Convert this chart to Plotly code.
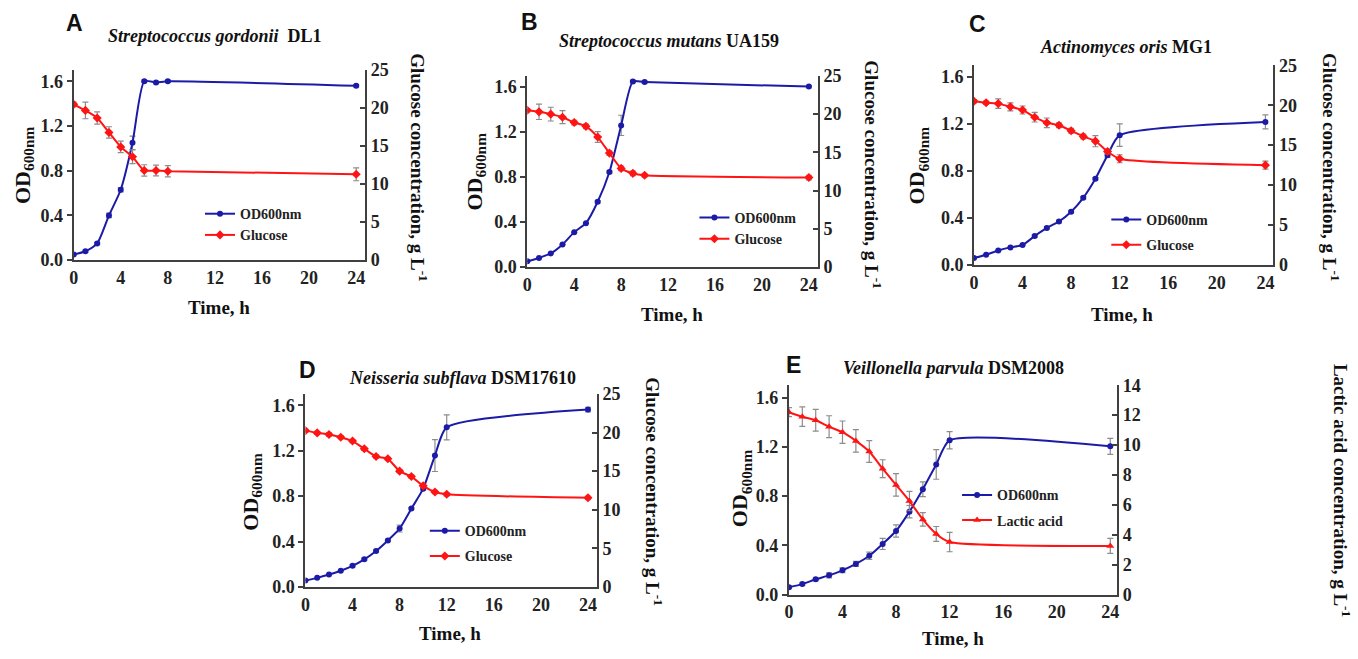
"""Growth curves of five oral bacteria: OD600 and substrate concentration over time."""

import plotly.graph_objects as go

W, H = 1358, 659

# ---- data ----
t_a = [0, 1, 2, 3, 4, 5, 6, 7, 8, 24]
od_a = [0.05, 0.08, 0.15, 0.40, 0.63, 1.05, 1.60, 1.59, 1.60, 1.56]
od_a_err = [0.01, 0.01, 0.01, 0.02, 0.02, 0.06, 0.01, 0.01, 0.01, 0.01]
glc_a = [20.5, 19.7, 18.7, 16.8, 14.9, 13.6, 11.8, 11.8, 11.7, 11.3]
glc_a_err = [0.3, 1.1, 0.8, 0.75, 0.75, 0.9, 0.75, 0.7, 0.75, 0.85]

t_b = [0, 1, 2, 3, 4, 5, 6, 7, 8, 9, 10, 24]
od_b = [0.05, 0.08, 0.12, 0.20, 0.31, 0.39, 0.58, 0.845, 1.26, 1.65, 1.645, 1.605]
od_b_err = [0, 0, 0, 0, 0, 0, 0.01, 0.01, 0.09, 0.01, 0.01, 0.01]
glc_b = [20.5, 20.3, 20.0, 19.6, 18.9, 18.4, 17.0, 14.9, 12.9, 12.25, 12.0, 11.7]
glc_b_err = [0.2, 1.0, 0.9, 0.85, 0.3, 0.3, 0.7, 0.3, 0.3, 0.3, 0.2, 0.3]

t_c = [0, 1, 2, 3, 4, 5, 6, 7, 8, 9, 10, 11, 12, 24]
od_c = [0.06, 0.088, 0.124, 0.15, 0.17, 0.247, 0.316, 0.37, 0.454, 0.572, 0.734, 0.935, 1.105, 1.218]
od_c_err = [0, 0, 0, 0, 0, 0.01, 0.01, 0.01, 0.01, 0.01, 0.01, 0.02, 0.096, 0.06]
glc_c = [20.5, 20.3, 20.2, 19.8, 19.4, 18.5, 17.8, 17.5, 16.8, 16.1, 15.5, 14.2, 13.3, 12.5]
glc_c_err = [0.2, 0.2, 0.6, 0.5, 0.5, 0.6, 0.6, 0.3, 0.3, 0.3, 0.7, 0.3, 0.5, 0.5]

t_d = [0, 1, 2, 3, 4, 5, 6, 7, 8, 9, 10, 11, 12, 24]
od_d = [0.057, 0.08, 0.109, 0.143, 0.186, 0.243, 0.317, 0.41, 0.514, 0.69, 0.866, 1.157, 1.406, 1.563]
od_d_err = [0, 0, 0, 0, 0.01, 0.01, 0.01, 0.01, 0.03, 0.01, 0.01, 0.14, 0.11, 0.02]
glc_d = [20.25, 19.96, 19.75, 19.4, 18.9, 17.9, 16.9, 16.6, 15.0, 14.3, 13.1, 12.3, 12.0, 11.55]
glc_d_err = [0.2, 0.2, 0.2, 0.2, 0.2, 0.2, 0.2, 0.2, 0.2, 0.2, 0.2, 0.2, 0.2, 0.2]

t_e = [0, 1, 2, 3, 4, 5, 6, 7, 8, 9, 10, 11, 12, 24]
od_e = [0.06, 0.086, 0.125, 0.157, 0.198, 0.25, 0.316, 0.412, 0.517, 0.674, 0.856, 1.057, 1.253, 1.204]
od_e_err = [0.01, 0.01, 0.01, 0.02, 0.02, 0.02, 0.03, 0.045, 0.05, 0.05, 0.06, 0.12, 0.07, 0.065]
lac_e = [12.2, 11.9, 11.66, 11.23, 10.86, 10.28, 9.57, 8.42, 7.34, 6.26, 5.03, 4.06, 3.52, 3.26]
lac_e_err = [0.3, 0.65, 0.73, 0.73, 0.75, 0.75, 0.73, 0.6, 0.75, 0.65, 0.45, 0.5, 0.65, 0.5]

x_ticks = [0, 4, 8, 12, 16, 20, 24]
od_ticks = [0.0, 0.4, 0.8, 1.2, 1.6]

BLUE = "#1b1ba8"
RED = "#ff1414"
AXIS = "#404040"
ERR = "#8c8c8c"
SERIF = "Liberation Serif"
SANS = "Liberation Sans"


def px(x):
    return x / W


def py(y):
    return 1 - y / H


# panel layout in pixels: plot box (left, right, top, bottom), x range end,
# legend top-left, gap between legend rows, letter/title/axis-title positions
panels = [
    dict(letter="A", species="Streptococcus gordonii", strain="&nbsp;DL1",
         t=t_a, od=od_a, od_err=od_a_err, sub=glc_a, sub_err=glc_a_err,
         sub_name="Glucose", sub_title="Glucose concentration, g L<sup>-1</sup>",
         sub_max=25, sub_dtick=5, sub_symbol="diamond",
         box=(69, 362, 62, 258), xmax=24.76,
         legend=(196, 194), gap=0,
         letter_pos=(70, 13), title_pos=(211, 27),
         od_title=(19, 160), sub_title_pos=(416, 163), time_title=(215, 307)),
    dict(letter="B", species="Streptococcus mutans", strain="UA159",
         t=t_b, od=od_b, od_err=od_b_err, sub=glc_b, sub_err=glc_b_err,
         sub_name="Glucose", sub_title="Glucose concentration, g L<sup>-1</sup>",
         sub_max=25, sub_dtick=5, sub_symbol="diamond",
         box=(525, 817, 68, 265), xmax=24.76,
         legend=(693, 198), gap=0,
         letter_pos=(527, 12), title_pos=(667, 32),
         od_title=(473, 167), sub_title_pos=(873, 170), time_title=(670, 314)),
    dict(letter="C", species="Actinomyces oris", strain="MG1",
         t=t_c, od=od_c, od_err=od_c_err, sub=glc_c, sub_err=glc_c_err,
         sub_name="Glucose", sub_title="Glucose concentration, g L<sup>-1</sup>",
         sub_max=25, sub_dtick=5, sub_symbol="diamond",
         box=(974, 1275, 57, 263), xmax=24.66,
         legend=(1107, 200), gap=4,
         letter_pos=(978, 14), title_pos=(1127, 38),
         od_title=(918, 160), sub_title_pos=(1333, 162), time_title=(1123, 314)),
    dict(letter="D", species="Neisseria subflava", strain="DSM17610",
         t=t_d, od=od_d, od_err=od_d_err, sub=glc_d, sub_err=glc_d_err,
         sub_name="Glucose", sub_title="Glucose concentration, g L<sup>-1</sup>",
         sub_max=25, sub_dtick=5, sub_symbol="diamond",
         box=(302, 595, 396, 595), xmax=24.76,
         legend=(422, 521), gap=4,
         letter_pos=(304, 371), title_pos=(460, 380),
         od_title=(248, 497), sub_title_pos=(652, 497), time_title=(447, 643)),
    dict(letter="E", species="Veillonella parvula", strain="DSM2008",
         t=t_e, od=od_e, od_err=od_e_err, sub=lac_e, sub_err=lac_e_err,
         sub_name="Lactic acid", sub_title="Lactic acid concentration, g L<sup>-1</sup>",
         sub_max=14, sub_dtick=2, sub_symbol="triangle-up",
         box=(788, 1118, 387, 603), xmax=24.52,
         legend=(957, 484), gap=4,
         letter_pos=(793, 366), title_pos=(953, 369),
         od_title=(740, 493), sub_title_pos=(1344, 495), time_title=(953, 648)),
]


def build_figure():
    fig = go.Figure()
    layout = {}
    annotations = []

    for i, p in enumerate(panels):
        n = i + 1
        xname = "x" if n == 1 else f"x{n}"
        yl = "y" if n == 1 else f"y{2 * n - 1}"
        yr = f"y{2 * n}"
        lname = "legend" if n == 1 else f"legend{n}"
        left, right, top, bottom = p["box"]

        fig.add_trace(go.Scatter(
            x=p["t"], y=p["od"], name="<b>OD600nm</b>", mode="lines+markers",
            xaxis=xname, yaxis=yl, legend=lname, legendgroup=f"od{n}",
            line={"color": BLUE, "width": 2, "shape": "spline", "smoothing": 0.6},
            marker={"color": BLUE, "size": 6, "symbol": "circle"},
            error_y={"type": "data", "array": p["od_err"], "color": ERR,
                     "thickness": 1.2, "width": 3},
        ))
        fig.add_trace(go.Scatter(
            x=p["t"], y=p["sub"], name=f"<b>{p['sub_name']}</b>", mode="lines+markers",
            xaxis=xname, yaxis=yr, legend=lname, legendgroup=f"sub{n}",
            line={"color": RED, "width": 2, "shape": "spline", "smoothing": 0.6},
            marker={"color": RED, "size": 7, "symbol": p["sub_symbol"]},
            error_y={"type": "data", "array": p["sub_err"], "color": ERR,
                     "thickness": 1.2, "width": 3},
        ))

        tickfont = {"family": SERIF, "size": 18, "color": "#222", "weight": "bold"}
        xkey = "xaxis" if n == 1 else f"xaxis{n}"
        layout[xkey] = dict(
            domain=[px(left), px(right)], range=[0, p["xmax"]],
            anchor=yl, tickvals=x_ticks, ticks="", showgrid=False, zeroline=False,
            showline=True, linecolor=AXIS, linewidth=2, tickfont=tickfont,
        )
        ylkey = "yaxis" if n == 1 else f"yaxis{2 * n - 1}"
        layout[ylkey] = dict(
            domain=[py(bottom), py(top)], range=[0, 1.7], anchor=xname,
            tickvals=od_ticks, tickformat=".1f", ticks="outside", ticklen=5,
            tickcolor=AXIS, tickwidth=1.5, showgrid=False, zeroline=False,
            showline=True, linecolor=AXIS, linewidth=2, tickfont=tickfont,
        )
        layout[f"yaxis{2 * n}"] = dict(
            domain=[py(bottom), py(top)], range=[0, p["sub_max"]],
            overlaying=yl, side="right", anchor=xname, dtick=p["sub_dtick"],
            ticks="inside", ticklen=5, tickcolor=AXIS, tickwidth=1.5,
            showgrid=False, zeroline=False, showline=True, linecolor=AXIS,
            linewidth=2, tickfont=tickfont,
        )
        lx, ly = p["legend"]
        layout[lname] = dict(
            x=px(lx), y=py(ly), xanchor="left", yanchor="top",
            bgcolor="rgba(0,0,0,0)", traceorder="grouped", tracegroupgap=p["gap"],
            font={"family": SERIF, "size": 14, "color": "#222"},
        )

        def note(text, pos, size, family=SERIF, angle=0):
            annotations.append(dict(
                text=f"<b>{text}</b>", x=px(pos[0]), y=py(pos[1]),
                xref="paper", yref="paper", showarrow=False, textangle=angle,
                xanchor="center", yanchor="middle",
                font={"family": family, "size": size, "color": "#111"},
            ))

        note(p["letter"], p["letter_pos"], 23, family=SANS)
        note(f"<i>{p['species']}</i> {p['strain']}", p["title_pos"], 18)
        note("OD<sub>600nm</sub>", p["od_title"], 22, angle=-90)
        note(p["sub_title"], p["sub_title_pos"], 19, angle=90)
        note("Time, h", p["time_title"], 19)

    fig.update_layout(
        width=W, height=H, margin={"l": 0, "r": 0, "t": 0, "b": 0},
        paper_bgcolor="white", plot_bgcolor="white", showlegend=True,
        annotations=annotations, **layout,
    )
    return fig


def main():
    fig = build_figure()
    # drop the browser's default body margin so the figure sits at the window corner
    fig.write_html(
        "out.html",
        config={"displayModeBar": False},
        post_script="document.body.style.margin='0';document.body.style.overflow='hidden';",
    )


if __name__ == "__main__":
    main()
